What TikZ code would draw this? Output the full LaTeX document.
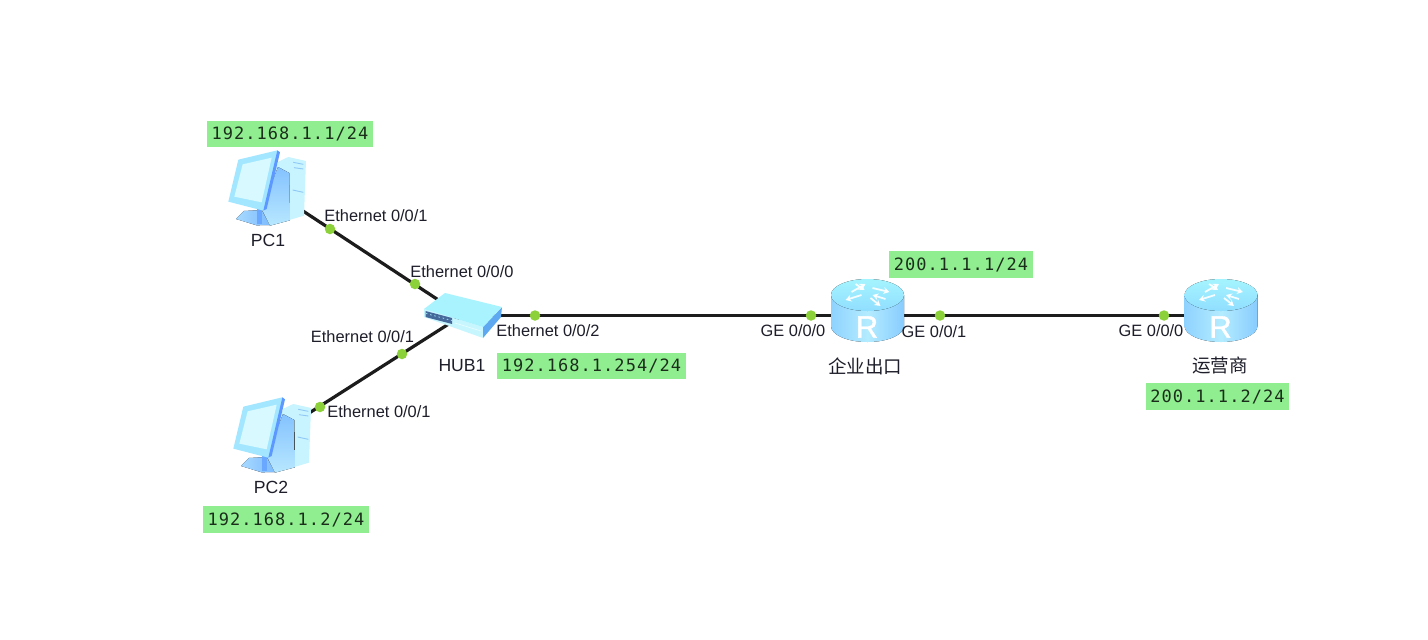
\documentclass[tikz,border=0pt]{standalone}
\usepackage{fontspec}
\setmainfont{Liberation Sans}
\newfontfamily\cjkfont{Noto Sans CJK SC}
\newfontfamily\ipfont[LetterSpace=6]{DejaVu Sans Mono}
\newfontfamily\rfont[FakeBold=1.3]{Liberation Sans}
\usetikzlibrary{arrows.meta}
\definecolor{linkc}{HTML}{1C1C1C}
\definecolor{dotc}{HTML}{8CD13A}
\definecolor{ipc}{HTML}{90EE90}
\definecolor{iptext}{HTML}{1B2E1B}
\definecolor{txtc}{HTML}{1E1E2A}
\definecolor{baseL}{HTML}{A8DAFF}
\definecolor{baseR}{HTML}{7CBBFF}
\definecolor{neck}{HTML}{6AA8FF}
\definecolor{towerF}{HTML}{C8F4FF}
\definecolor{towerT}{HTML}{84C2FF}
\definecolor{towerB}{HTML}{B8E8FF}
\definecolor{slot}{HTML}{8FC8F5}
\definecolor{monF}{HTML}{A2E7FF}
\definecolor{monS}{HTML}{D8F9FF}
\definecolor{monE}{HTML}{5C98FF}
\definecolor{rtL}{HTML}{8ED2FF}
\definecolor{rtM}{HTML}{B4ECFF}
\definecolor{rtR}{HTML}{88CCFF}
\definecolor{rtT}{HTML}{A4F4FF}
\definecolor{rtB}{HTML}{90DEFF}
\definecolor{hubF}{HTML}{C8F6FF}
\definecolor{hubS}{HTML}{5DA8F0}
\definecolor{hubT}{HTML}{A9F3FF}
\definecolor{hubP}{HTML}{46699C}
\definecolor{hubL}{HTML}{E9FDFF}
\tikzset{
  anchorpt/.style={inner sep=0pt,minimum size=0pt},
  link/.style={draw=linkc,line width=3.2pt},
  portdot/.style={circle,fill=dotc,inner sep=0pt,minimum size=10.5pt},
  portlabel/.style={text=txtc,inner sep=0pt,font=\fontsize{16.4}{18}\selectfont},
  devlabel/.style={text=txtc,inner sep=0pt,font=\fontsize{17.6}{20}\selectfont},
  cjklabel/.style={text=txtc,inner sep=0pt,font=\cjkfont\fontsize{18.5}{20}\selectfont},
  iplabel/.style={fill=ipc,text=iptext,inner sep=0pt,anchor=center,font=\ipfont\fontsize{17}{18}\selectfont},
  pcicon/.pic={
    \begin{scope}[x=0.3333pt,y=-0.3333pt]
      \fill[left color=baseL,right color=baseR] (48,222)--(72,198)--(125,195)--(150,240)--(110,241)--cycle;
      \fill[neck] (110,190)--(125,190)--(125,237)--(110,237)--cycle;
      \fill[towerF] (175,50)--(205,36)--(258,48)--(252,212)--(150,242)--(125,190)--cycle;
      \fill[top color=towerT,bottom color=towerB] (174,66)--(208,84)--(210,226)--(150,242)--(125,192)--cycle;
      \draw[slot,line width=0.9pt] (220,52)--(250,58) (222,68)--(250,72) (218,135)--(250,142);
      \fill[monF] (172,16)--(55,44)--(25,170)--(130,197)--(140,190)--cycle;
      \fill[monS] (155,38)--(68,58)--(43,155)--(125,172)--cycle;
      \fill[monE] (172,16)--(180,22)--(140,192)--(130,197)--cycle;
    \end{scope}
  },
  routericon/.pic={
    \fill[left color=rtL,right color=rtR,middle color=rtM]
      (-36.5,0)--(-36.5,31) arc[start angle=180,end angle=0,x radius=36.5,y radius=16]--(36.5,0)--cycle;
    \fill[top color=rtT,bottom color=rtB] (0,0) ellipse[x radius=36.5,y radius=16];
    \begin{scope}[white,opacity=0.9,line width=1.8pt]
      \draw[-{Stealth[length=6pt,width=7pt]}] (-6,0)--(-22,5);
      \draw[-{Stealth[length=6pt,width=7pt]}] (-16,-3)--(-2,-11);
      \draw[-{Stealth[length=6pt,width=7pt]}] (5,-7)--(22,-3);
      \draw[-{Stealth[length=6pt,width=7pt]}] (18,4)--(5,0);
      \draw[-{Stealth[length=6pt,width=7pt]}] (-12,-11)--(-3,-5);
      \draw[-{Stealth[length=6pt,width=7pt]}] (3,3)--(13,11);
    \end{scope}
    \node[text=white,inner sep=0pt,font=\rfont\fontsize{31}{33}\selectfont] at (-0.5,32) {R};
  },
  hubicon/.pic={
    \fill[hubF] (424,309)--(424,317)--(483,338)--(483,327)--cycle;
    \fill[hubS] (483,327)--(483,338)--(501,317)--(502,307)--cycle;
    \fill[hubT] (424,309)--(445,293)--(502,307)--(483,327)--cycle;
    \fill[hubP] (425.5,311)--(452,318)--(452,324)--(425.5,317)--cycle;
    \draw[hubT,line width=0.7pt,dash pattern=on 1.5pt off 2.8pt] (426,313.5)--(452,320.5);
    \draw[hubL,line width=0.6pt] (455,323)--(481,331);
  },
}
\begin{document}
\begin{tikzpicture}[x=1pt,y=-1pt]
  \useasboundingbox[fill=white] (0,0) rectangle (1428,640);
  % anchors of the devices
  \node[anchorpt] (pc1) at (268,188) {};
  \node[anchorpt] (pc2) at (270,438) {};
  \node[anchorpt] (hub) at (462,315.5) {};
  \node[anchorpt] (ar1) at (867.5,315.5) {};
  \node[anchorpt] (ar2) at (1221,315.5) {};
  % links
  \draw[link] (pc1) -- (hub);
  \draw[link] (pc2) -- (hub);
  \draw[link] (hub) -- (ar1);
  \draw[link] (ar1) -- (ar2);
  % icons
  \pic at (220,145) {pcicon};
  \pic at (225,392) {pcicon};
  \pic at (0,0) {hubicon};
  \pic at (867.5,295) {routericon};
  \pic at (1221,295) {routericon};
  % port dots
  \node[portdot] (d1) at (330,229) {};
  \node[portdot] (d2) at (415,284) {};
  \node[portdot] (d3) at (402,354) {};
  \node[portdot] (d4) at (320,407) {};
  \node[portdot] (d5) at (535,315.5) {};
  \node[portdot] (d6) at (811,315.5) {};
  \node[portdot] (d7) at (940,315.5) {};
  \node[portdot] (d8) at (1164,315.5) {};
  % port labels
  \node[portlabel] (l1) at (376,216) {Ethernet 0/0/1};
  \node[portlabel] (l2) at (462,272) {Ethernet 0/0/0};
  \node[portlabel] (l3) at (362.5,337) {Ethernet 0/0/1};
  \node[portlabel] (l4) at (379,412) {Ethernet 0/0/1};
  \node[portlabel] (l5) at (548,331) {Ethernet 0/0/2};
  \node[portlabel] (l6) at (793,331) {GE 0/0/0};
  \node[portlabel] (l7) at (934,332) {GE 0/0/1};
  \node[portlabel] (l8) at (1151,331) {GE 0/0/0};
  % device labels
  \node[devlabel] (n1) at (268,240) {PC1};
  \node[devlabel] (n2) at (271,487) {PC2};
  \node[devlabel] (n3) at (462,366) {HUB1};
  \node[cjklabel] (n4) at (865,366) {企业出口};
  \node[cjklabel] (n5) at (1220,365) {运营商};
  % addresses
  \node[iplabel,minimum width=166pt,minimum height=26pt] (a1) at (290,134) {192.168.1.1/24};
  \node[iplabel,minimum width=166pt,minimum height=27pt] (a2) at (286,519.5) {192.168.1.2/24};
  \node[iplabel,minimum width=189pt,minimum height=26pt] (a3) at (591.5,366) {192.168.1.254/24};
  \node[iplabel,minimum width=144pt,minimum height=27pt] (a4) at (961,264.5) {200.1.1.1/24};
  \node[iplabel,minimum width=143pt,minimum height=27pt] (a5) at (1217.5,396.5) {200.1.1.2/24};
\end{tikzpicture}
\end{document}
